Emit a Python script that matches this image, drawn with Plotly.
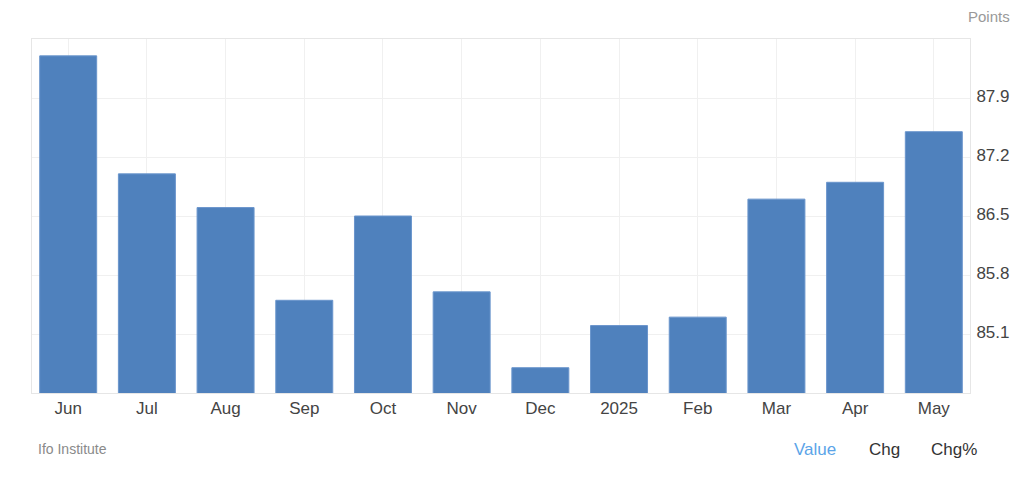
import plotly.graph_objects as go

categories = ["Jun", "Jul", "Aug", "Sep", "Oct", "Nov", "Dec", "2025", "Feb", "Mar", "Apr", "May"]
values = [88.4, 87.0, 86.6, 85.5, 86.5, 85.6, 84.7, 85.2, 85.3, 86.7, 86.9, 87.5]
y_ticks = [85.1, 85.8, 86.5, 87.2, 87.9]
y_tick_labels = ["85.1", "85.8", "86.5", "87.2", "87.9"]

FONT = "Liberation Sans, Arial, sans-serif"

fig = go.Figure(
    go.Bar(
        x=categories,
        y=values,
        marker=dict(color="#4f81bd", line=dict(color="#6a95cc", width=1)),
        hovertemplate="%{x}: %{y}<extra></extra>",
    )
)

fig.update_layout(
    width=1008,
    height=464,
    margin=dict(l=24, r=46, t=31, b=79),
    paper_bgcolor="white",
    plot_bgcolor="white",
    bargap=0.276,
    showlegend=False,
    font=dict(family=FONT, color="#444444"),
    xaxis=dict(
        type="category",
        range=[-0.46, 11.46],
        automargin=False,
        showgrid=True,
        gridcolor="#f0f0f0",
        showline=True,
        linecolor="#e6e6e6",
        mirror=True,
        ticks="",
        tickfont=dict(size=17, color="#444444"),
        fixedrange=True,
    ),
    yaxis=dict(
        side="right",
        range=[84.4, 88.6],
        automargin=False,
        tickvals=y_ticks,
        ticktext=y_tick_labels,
        showgrid=True,
        gridcolor="#f0f0f0",
        showline=True,
        linecolor="#e6e6e6",
        mirror=True,
        ticks="",
        ticklabelstandoff=2,
        ticklabelshift=-2,
        zeroline=False,
        tickfont=dict(size=17, color="#444444"),
        fixedrange=True,
    ),
    annotations=[
        dict(text="Points", xref="paper", yref="paper", x=1.0, y=1.0,
             xanchor="left", yanchor="bottom", xshift=-4, yshift=12,
             showarrow=False, font=dict(size=15, color="#999999", family=FONT)),
        dict(text="Ifo Institute", xref="paper", yref="paper", x=0, y=0,
             xanchor="left", yanchor="middle", xshift=4, yshift=-56,
             showarrow=False, font=dict(size=14, color="#8a8a8a", family=FONT)),
        dict(text="Value", xref="paper", yref="paper", x=0, y=0,
             xanchor="left", yanchor="middle", xshift=760, yshift=-56,
             showarrow=False, font=dict(size=17, color="#5ba4e8", family=FONT)),
        dict(text="Chg", xref="paper", yref="paper", x=0, y=0,
             xanchor="left", yanchor="middle", xshift=835, yshift=-56,
             showarrow=False, font=dict(size=17, color="#333333", family=FONT)),
        dict(text="Chg%", xref="paper", yref="paper", x=0, y=0,
             xanchor="left", yanchor="middle", xshift=897, yshift=-56,
             showarrow=False, font=dict(size=17, color="#333333", family=FONT)),
    ],
)

fig.write_html("out.html")
